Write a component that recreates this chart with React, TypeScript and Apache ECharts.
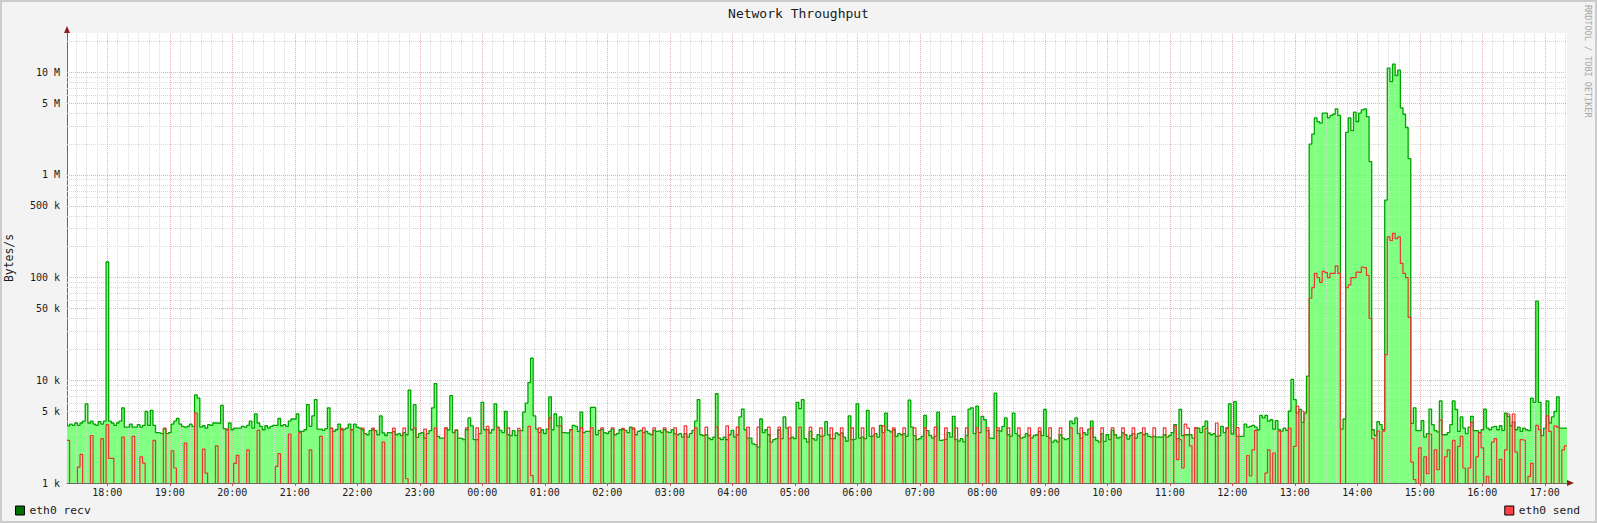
import React, { useEffect, useRef } from "react";
import * as echarts from "echarts";

const FONT = '"DejaVu Sans Mono", monospace';

// time axis in minutes of day (continuing past midnight)
const startMinute = 1041.3; // 17:21:18
const stepMinutes = 2.5;
const endMinute = startMinute + 1440;
const yBottom = 1; // kB/s
const yTop = 24130; // kB/s

const hourTicks = [1080, 1140, 1200, 1260, 1320, 1380, 1440, 1500, 1560, 1620, 1680, 1740, 1800, 1860, 1920, 1980, 2040, 2100, 2160, 2220, 2280, 2340, 2400, 2460];
const hourLabels = ["18:00", "19:00", "20:00", "21:00", "22:00", "23:00", "00:00", "01:00", "02:00", "03:00", "04:00", "05:00", "06:00", "07:00", "08:00", "09:00", "10:00", "11:00", "12:00", "13:00", "14:00", "15:00", "16:00", "17:00"];
const yTicks = [1, 5, 10, 50, 100, 500, 1000, 5000, 10000];
const yTickLabels = ["1 k", "5 k", "10 k", "50 k", "100 k", "500 k", "1 M", "5 M", "10 M"];

// eth0 recv, kB/s, 2.5-minute samples, 17:21 -> 23:21
const recvA = [
  3.6, 3.75, 3.64, 3.84, 3.64, 3.84, 4.0, 5.9, 3.84, 4.0, 3.75, 3.64,
  3.96, 3.75, 4.0, 142, 4.0, 3.84, 3.64, 3.84, 4.0, 5.4, 3.5, 3.5,
  3.75, 3.5, 3.5, 3.7, 3.5, 3.64, 4.97, 3.64, 5.1, 3.64, 3.1, 3.07,
  3.02, 3.38, 3.02, 3.1, 3.75, 4.0, 4.25, 3.75, 3.56, 3.5, 3.56, 3.75,
  3.56, 7.2, 6.7, 3.5, 3.61, 3.43, 3.7, 3.64, 3.84, 3.84, 3.78, 5.7,
  3.38, 3.3, 3.84, 3.3, 3.43, 3.43, 3.43, 3.56, 3.5, 3.64, 4.0, 3.43,
  4.7, 3.84, 3.56, 3.3, 3.61, 3.43, 3.56, 3.64, 3.64, 4.25, 3.61, 3.7,
  3.56, 4.0, 4.2, 4.2, 4.7, 3.18, 3.18, 3.3, 5.8, 3.56, 4.5, 6.5,
  3.35, 3.35, 3.25, 3.38, 5.4, 3.43, 3.18, 3.3, 3.75, 3.3, 3.35, 3.43,
  3.75, 3.3, 3.75, 3.5, 3.43, 3.3, 3.02, 2.95, 3.23, 3.3, 3.23, 2.95,
  4.5, 3.07, 2.9, 3.1, 3.07, 3.18, 2.95, 3.02, 2.89, 3.1, 2.95, 8.0,
  3.3, 5.8, 2.78, 3.02, 3.1, 2.74, 3.02, 3.23, 5.4, 9.3, 2.85, 2.74,
];
// 23:21 -> 05:21
const recvB = [
  2.74, 3.43, 3.3, 7.1, 3.1, 3.25, 2.74, 2.7, 2.64, 3.3, 4.3, 3.6,
  2.64, 2.64, 3.02, 6.1, 3.3, 3.35, 3.07, 3.3, 5.9, 3.5, 3.25, 3.1,
  4.97, 2.95, 2.89, 3.23, 2.89, 3.23, 3.23, 4.9, 6.0, 9.5, 16.4, 4.5,
  3.35, 3.1, 3.3, 3.02, 3.35, 6.9, 3.3, 4.7, 3.6, 4.4, 3.1, 3.07,
  3.07, 3.3, 3.64, 3.56, 3.18, 4.9, 3.1, 3.18, 3.18, 5.45, 5.45, 2.95,
  3.25, 3.35, 3.1, 3.02, 3.18, 3.35, 2.95, 3.02, 3.3, 3.35, 3.25, 3.1,
  3.5, 3.35, 2.95, 3.18, 3.25, 3.1, 3.18, 3.02, 2.95, 3.25, 3.18, 3.23,
  3.1, 3.3, 3.15, 3.1, 3.3, 3.02, 2.95, 3.02, 2.8, 3.02, 2.8, 3.02,
  3.25, 4.0, 6.5, 2.95, 2.89, 2.95, 2.74, 2.64, 2.8, 7.4, 2.74, 2.64,
  2.8, 2.64, 2.95, 3.25, 2.8, 2.95, 4.4, 5.25, 3.3, 2.74, 2.74, 2.4,
  2.36, 2.24, 4.2, 3.1, 3.3, 2.95, 2.5, 2.64, 2.7, 3.3, 2.7, 4.4,
  3.43, 2.7, 2.8, 2.7, 6.1, 5.3, 6.5, 2.7, 2.5, 3.18, 2.7, 2.62,
];
// 05:21 -> 11:21
const recvC = [
  2.95, 2.85, 2.89, 3.96, 2.95, 2.7, 2.7, 3.07, 2.95, 3.07, 2.8, 2.55,
  4.5, 2.64, 2.68, 5.9, 2.74, 2.8, 2.7, 5.1, 2.85, 2.89, 3.02, 2.8,
  3.64, 3.1, 4.8, 3.25, 3.15, 3.3, 2.85, 3.02, 2.95, 3.02, 2.85, 6.4,
  3.5, 2.89, 2.64, 2.7, 2.85, 4.55, 3.23, 2.89, 2.74, 2.85, 4.9, 2.6,
  2.64, 2.68, 3.1, 2.8, 4.46, 2.64, 2.56, 2.7, 2.52, 2.89, 5.25, 5.4,
  3.02, 5.6, 3.1, 4.46, 4.13, 3.23, 2.74, 2.7, 7.5, 3.23, 3.18, 3.56,
  4.3, 2.95, 2.85, 4.8, 3.02, 2.89, 2.74, 2.8, 3.02, 2.89, 2.74, 2.89,
  2.95, 3.18, 2.89, 5.2, 2.85, 2.74, 2.5, 2.62, 2.52, 2.95, 2.74, 2.64,
  2.7, 4.0, 3.78, 4.3, 3.02, 2.74, 3.1, 2.95, 3.35, 4.0, 2.8, 2.6,
  2.5, 3.02, 2.54, 2.95, 2.64, 3.25, 2.95, 2.74, 2.8, 3.1, 2.95, 2.68,
  2.89, 3.02, 2.74, 3.02, 3.1, 2.95, 3.02, 2.85, 2.8, 2.85, 2.8, 2.8,
  2.8, 2.95, 2.8, 2.89, 3.1, 3.7, 2.7, 5.2, 2.89, 2.95, 2.95, 2.95,
];
// 11:21 -> 17:21
const recvD = [
  2.74, 3.43, 3.43, 3.1, 3.56, 4.0, 3.07, 2.95, 3.02, 2.85, 2.89, 3.56,
  3.1, 3.43, 5.9, 3.0, 6.2, 2.85, 2.85, 2.85, 3.75, 3.5, 3.56, 3.64,
  3.5, 3.3, 4.55, 4.3, 4.55, 4.0, 4.13, 3.35, 4.05, 3.3, 3.2, 3.43,
  3.25, 5.0, 10.2, 6.5, 4.8, 5.2, 3.9, 4.8, 11, 2000, 2500, 3600,
  3300, 3200, 4000, 4000, 3600, 3800, 3900, 4400, 3800, 3.35, 4.2, 2600,
  3600, 2700, 4100, 3300, 4000, 4300, 4400, 3700, 1350, 3.3, 2.9, 3.96,
  3.7, 3.3, 570, 11000, 8100, 12000, 9300, 10500, 4500, 3900, 2900, 1440,
  3.8, 5.4, 3.23, 3.23, 4.05, 2.8, 3.02, 5.25, 3.7, 3.23, 3.15, 6.3,
  2.95, 2.95, 3.1, 3.7, 6.3, 5.2, 3.18, 4.4, 3.43, 3.02, 3.5, 4.46,
  3.23, 3.23, 3.1, 3.3, 5.25, 3.43, 3.3, 3.5, 3.56, 3.3, 3.61, 3.25,
  4.8, 4.46, 3.61, 3.9, 3.3, 3.5, 3.18, 3.43, 3.3, 3.23, 6.7, 6.1,
  59, 6.1, 2.89, 3.43, 6.3, 3.84, 4.4, 4.97, 6.9, 3.43, 3.43, 3.43,
];

// eth0 send, kB/s (0.6 = below the 1 k floor)
const sendA = [
  2.6, .6, .6, .6, 1.43, 1.9, .6, .6, .6, 2.9, .6, .6,
  .6, 2.7, .6, 3.7, 1.74, 1.74, .6, .6, .6, 2.8, .6, .6,
  .6, 2.85, .6, .6, 1.8, 1.56, .6, .6, .6, 2.6, .6, .6,
  .6, 3.43, .6, .6, 2.06, 1.4, .6, .6, .6, 2.45, .6, .6,
  .6, 4.8, .6, .6, 2.14, 1.25, .6, .6, .6, 2.3, .6, .6,
  .6, 3.35, .6, .6, 1.55, 1.86, .6, .6, .6, 2.1, .6, .6,
  .6, 3.25, .6, .6, .6, .6, .6, .6, 1.45, 1.93, .6, .6,
  .6, 3.0, .6, .6, .6, 3.1, .6, .6, .6, 2.1, .6, .6,
  .6, 2.85, .6, .6, .6, 3.4, .6, .6, .6, 3.4, .6, .6,
  .6, 3.3, .6, .6, .6, 3.43, .6, .6, .6, 3.43, .6, .6,
  .6, 2.5, .6, .6, .6, 3.43, .6, .6, .6, 3.43, 1.1, .6,
  .6, 3.43, .6, .6, .6, 3.35, .6, .6, .6, 3.43, .6, .6,
];
const sendB = [
  .6, 3.45, .6, .6, .6, 3.3, .6, .6, .6, 3.45, .6, .6,
  .6, 3.45, .6, .6, .6, 3.56, .6, .6, .6, 3.45, .6, .6,
  .6, 3.45, .6, .6, .6, 3.4, .6, .6, .6, 3.56, 1.18, .6,
  .6, 3.45, .6, .6, .6, 4.3, .6, .6, .6, 3.6, .6, .6,
  .6, 3.3, .6, .6, .6, 3.45, .6, .6, .6, 3.45, .6, .6,
  .6, 3.45, .6, .6, .6, 3.45, .6, .6, .6, 3.4, .6, .6,
  .6, 3.45, .6, .6, .6, 3.45, .6, .6, .6, 3.45, .6, .6,
  .6, 3.45, .6, .6, .6, 3.45, .6, .6, .6, 3.6, .6, .6,
  .6, 3.45, .6, .6, .6, 3.5, .6, .6, .6, 3.5, .6, .6,
  .6, 3.6, .6, .6, .6, 3.5, .6, .6, .6, 3.5, .6, .6,
  .6, 3.5, .6, .6, .6, 3.5, .6, .6, .6, 3.5, .6, .6,
  .6, 3.5, .6, .6, .6, 3.5, .6, .6, .6, 3.5, .6, .6,
];
const sendC = [
  .6, 3.45, .6, .6, .6, 3.45, .6, .6, .6, 3.45, .6, .6,
  .6, 3.45, .6, .6, .6, 3.45, .6, .6, .6, 3.45, .6, .6,
  .6, 3.6, .6, .6, .6, 3.45, .6, .6, .6, 3.45, .6, .6,
  .6, 3.45, .6, .6, .6, 3.45, .6, .6, .6, 3.5, .6, .6,
  .6, 3.45, .6, .6, .6, 3.45, .6, .6, .6, 3.45, .6, .6,
  .6, 3.45, .6, .6, .6, 3.45, .6, .6, .6, 3.45, .6, .6,
  .6, 3.45, .6, .6, .6, 3.45, .6, .6, .6, 3.45, .6, .6,
  .6, 3.45, .6, .6, .6, 3.45, .6, .6, .6, 3.45, .6, .6,
  .6, 3.45, .6, .6, .6, 3.45, .6, .6, .6, 3.45, .6, .6,
  .6, 3.45, .6, .6, .6, 3.45, .6, .6, .6, 3.45, .6, .6,
  .6, 3.45, .6, .6, .6, 3.45, .6, .6, .6, 3.45, .6, .6,
  .6, 3.45, .6, .6, .6, 3.6, 1.69, 2.64, 1.4, 3.75, 3.43, 2.3,
];
const sendD = [
  .6, 3.46, .6, .6, .6, 3.4, .6, .6, .6, 3.84, .6, .6,
  .6, 3.46, .6, .6, .6, 3.46, .6, .6, .6, 1.85, 1.17, 2.1,
  3.25, .6, .6, .6, 1.25, 2.1, .6, 1.96, .6, 3.2, .6, .6,
  .6, 3.43, .6, 2.27, 5.6, .6, 5.0, .6, .6, 63, 80, 110,
  100, 90, 115, 112, 100, 110, 110, 130, 110, .6, .6, 80,
  85, 100, 100, 113, 112, 127, 125, 105, 40, 2.7, .6, 3.2,
  .6, 3.2, 17.8, 250, 230, 270, 240, 250, 138, 110, 100, 41,
  1.6, 1.08, .6, 2.2, .6, 1.8, 1.23, 3.0, .6, 2.1, 1.35, 4.1,
  .6, 1.8, 2.1, .6, 2.6, .6, 2.27, 2.85, 1.4, .6, 1.4, 3.9,
  .6, 1.8, 3.07, 2.2, .6, 1.16, .6, 2.5, 2.7, .6, 1.7, .6,
  2.1, 4.7, .6, 4.7, 2.0, .6, 2.64, 2.6, .6, 1.16, 1.55, .6,
  3.64, 3.3, .6, .6, 4.5, 3.18, .6, 3.6, 3.5, .6, 2.1, 2.3,
];

const MAJOR = "#eab0b0";
const MINOR = "#d9d9d9";

export default function App() {
  const ref = useRef<HTMLDivElement>(null);
  useEffect(() => {
    document.body.style.margin = "0";
    const chart = echarts.init(ref.current!, null, { renderer: "svg" });
    const recv = [...recvA, ...recvB, ...recvC, ...recvD];
    const send = [...sendA, ...sendB, ...sendC, ...sendD];
    const toSteps = (vals: number[]) => {
      const pts: number[][] = vals.map((v, i) => [startMinute + i * stepMinutes, v]);
      pts.push([startMinute + vals.length * stepMinutes, vals[vals.length - 1]]);
      return pts;
    };
    const gridLines: any[] = [];
    const decades = [1, 10, 100, 1000, 10000];
    for (const d of decades) {
      for (let m = 1; m <= 9; m++) {
        const v = d * m;
        if (v <= yBottom || v > yTop) continue;
        const major = m === 1 || m === 5;
        gridLines.push({ yAxis: v, lineStyle: { color: major ? MAJOR : MINOR, type: [1, 1], width: 1 } });
      }
    }
    for (let t = Math.ceil(startMinute / 10) * 10; t < endMinute; t += 10) {
      const major = t % 60 === 0;
      gridLines.push({ xAxis: t, lineStyle: { color: major ? MAJOR : MINOR, type: [1, 1], width: 1 } });
    }
    const textBase = { fontFamily: FONT, color: "#1a1a1a" };
    chart.setOption({
      animation: false,
      backgroundColor: "#f3f3f3",
      textStyle: { fontFamily: FONT },
      title: {
        text: "Network Throughput",
        left: "center",
        top: 2,
        textStyle: { ...textBase, fontSize: 13, fontWeight: "normal" },
      },
      legend: [
        {
          data: [{ name: "eth0 recv", icon: "rect", itemStyle: { color: "#006f00", borderColor: "#000", borderWidth: 1 } }],
          left: 15, top: 505, itemWidth: 9, itemHeight: 9, padding: 0, selectedMode: false,
          textStyle: { ...textBase, fontSize: 11.3 },
        },
        {
          data: [{ name: "eth0 send", icon: "rect", itemStyle: { color: "#ff4040", borderColor: "#000", borderWidth: 1 } }],
          right: 17, top: 505, itemWidth: 9, itemHeight: 9, padding: 0, selectedMode: false,
          textStyle: { ...textBase, fontSize: 11.3 },
        },
      ],
      grid: {
        left: 67, top: 33, width: 1500, height: 450,
        outerBoundsMode: "none", containLabel: false,
        show: true, backgroundColor: "#ffffff", borderWidth: 0,
      },
      xAxis: {
        type: "value",
        min: startMinute,
        max: endMinute,
        splitLine: { show: false },
        axisLine: { show: true, lineStyle: { color: "#6a6a6a", width: 1 } },
        axisTick: { show: true, customValues: hourTicks, length: 3, lineStyle: { color: "#d05050" } },
        axisLabel: {
          customValues: hourTicks,
          margin: 4,
          fontSize: 10,
          ...textBase,
          formatter: (v: number) => {
            const i = hourTicks.findIndex((h) => Math.abs(h - v) < 0.5);
            return i >= 0 ? hourLabels[i] : "";
          },
        },
      },
      yAxis: {
        type: "log",
        logBase: 10,
        min: yBottom,
        max: yTop,
        name: "Bytes/s",
        nameLocation: "middle",
        nameGap: 53,
        nameRotate: 90,
        nameTextStyle: { ...textBase, fontSize: 11.4 },
        splitLine: { show: false },
        minorSplitLine: { show: false },
        axisTick: { show: false },
        axisLine: { show: true, onZero: false, lineStyle: { color: "#6a6a6a", width: 1 } },
        axisLabel: {
          customValues: yTicks,
          margin: 7,
          fontSize: 10,
          ...textBase,
          formatter: (v: number) => {
            const i = yTicks.findIndex((t) => Math.abs(t - v) / t < 0.01);
            return i >= 0 ? yTickLabels[i] : "";
          },
        },
      },
      series: [
        {
          name: "eth0 recv",
          type: "line",
          step: "end",
          data: toSteps(recv),
          symbol: "none",
          showSymbol: false,
          silent: true,
          lineStyle: { width: 0, opacity: 0 },
          areaStyle: { color: "#80ff80", opacity: 1, origin: "start" },
          z: 1,
          markLine: {
            z: 2,
            silent: true,
            symbol: ["none", "none"],
            label: { show: false },
            emphasis: { disabled: true },
            animation: false,
            data: gridLines,
          },
        },
        {
          name: "eth0 recv",
          type: "line",
          step: "end",
          data: toSteps(recv),
          symbol: "none",
          showSymbol: false,
          silent: true,
          lineStyle: { color: "#00a400", width: 1.3 },
          z: 3,
        },
        {
          name: "eth0 send",
          type: "line",
          step: "end",
          data: toSteps(send),
          symbol: "none",
          showSymbol: false,
          silent: true,
          lineStyle: { color: "#ee3333", width: 1.2 },
          z: 4,
        },
      ],
      graphic: [
        { type: "rect", shape: { x: 1, y: 1, width: 1595, height: 521 }, style: { fill: "none", stroke: "#cccccc", lineWidth: 2 }, silent: true },
        { type: "polygon", shape: { points: [[64, 33], [70, 33], [67, 26]] }, style: { fill: "#8a1c1c" }, silent: true },
        { type: "polygon", shape: { points: [[1567, 480], [1567, 486], [1574, 483]] }, style: { fill: "#8a1c1c" }, silent: true },
        {
          type: "text",
          x: 1588,
          y: 5,
          rotation: -Math.PI / 2,
          silent: true,
          style: { text: "RRDTOOL / TOBI OETIKER", fill: "#a8a8a8", font: '8.5px "DejaVu Sans Mono"', align: "left", verticalAlign: "middle" },
        },
      ],
    });
    return () => chart.dispose();
  }, []);
  return <div ref={ref} style={{ width: 1597, height: 523 }} />;
}
